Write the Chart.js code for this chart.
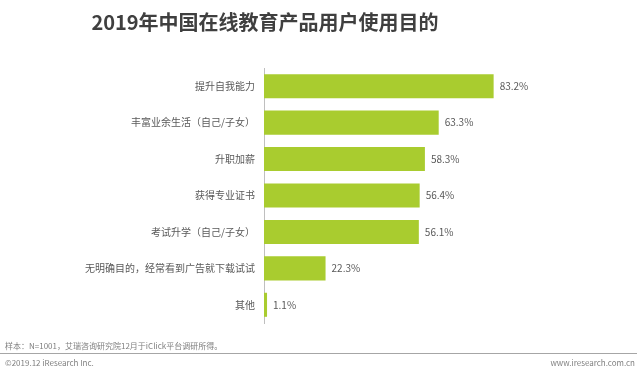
<!DOCTYPE html>
<html>
<head>
<meta charset="utf-8">
<script src="https://cdn.jsdelivr.net/npm/chart.js@4/dist/chart.umd.min.js"></script>
<style>
  body { margin: 0; background: #fff; font-family: "Noto Sans CJK SC", sans-serif; }
  #wrap { position: relative; width: 640px; height: 375px; overflow: hidden; }
  #chart { position: absolute; left: 0; top: 0; }
  .txt { position: absolute; white-space: nowrap; }
  #title { left: 0; width: 530px; top: 7px; text-align: center; font-size: 20px; font-weight: bold; color: #3f3f3f; line-height: 30px; }
  #source { left: 5px; top: 340px; font-size: 8px; color: #7f7f7f; line-height: 12px; }
  #rule { position: absolute; left: 0; top: 353px; width: 637px; height: 1px; background: #a6a6a6; }
  #copy { left: 5px; top: 357px; font-size: 8px; color: #7f7f7f; line-height: 12px; }
  #site { right: 5px; top: 357px; font-size: 8px; color: #7f7f7f; line-height: 12px; }
</style>
</head>
<body>
<div id="wrap">
  <canvas id="chart" width="640" height="375"></canvas>
  <div class="txt" id="title">2019年中国在线教育产品用户使用目的</div>
  <div class="txt" id="source">样本：N=1001，艾瑞咨询研究院12月于iClick平台调研所得。</div>
  <div id="rule"></div>
  <div class="txt" id="copy">©2019.12 iResearch Inc.</div>
  <div class="txt" id="site">www.iresearch.com.cn</div>
</div>
<script>
const purposes = [
  "提升自我能力",
  "丰富业余生活（自己/子女）",
  "升职加薪",
  "获得专业证书",
  "考试升学（自己/子女）",
  "无明确目的，经常看到广告就下载试试",
  "其他",
];

const shares = [83.2, 63.3, 58.3, 56.4, 56.1, 22.3, 1.1];

const barColor = "#a9cc2f";
const textColor = "#595959";

// value labels at the end of each bar
const valueLabels = {
  id: "valueLabels",
  afterDatasetsDraw(chart) {
    const ctx = chart.ctx;
    const meta = chart.getDatasetMeta(0);
    ctx.save();
    ctx.font = '10px "Noto Sans CJK SC"';
    ctx.fillStyle = textColor;
    ctx.textAlign = "left";
    ctx.textBaseline = "middle";
    meta.data.forEach((bar, i) => {
      ctx.fillText(shares[i].toFixed(1) + "%", bar.x + 6, bar.y);
    });
    ctx.restore();
  },
};

new Chart(document.getElementById("chart").getContext("2d"), {
  type: "bar",
  data: {
    labels: purposes,
    datasets: [
      {
        data: shares,
        backgroundColor: barColor,
        borderWidth: 0,
        categoryPercentage: 1,
        barPercentage: 0.66,
      },
    ],
  },
  options: {
    indexAxis: "y",
    responsive: false,
    animation: false,
    layout: { padding: { top: 68, bottom: 52, left: 0, right: 100 } },
    plugins: {
      legend: { display: false },
      tooltip: { enabled: false },
    },
    scales: {
      x: {
        display: false,
        min: 0,
        max: 100,
      },
      y: {
        grid: { display: false, drawTicks: false },
        border: { display: true, color: "#bfbfbf", width: 1 },
        ticks: {
          padding: 9,
          color: textColor,
          font: { size: 10, family: '"Noto Sans CJK SC"' },
        },
        afterFit(scale) {
          scale.width = 264;
        },
      },
    },
  },
  plugins: [valueLabels],
});
</script>
</body>
</html>
